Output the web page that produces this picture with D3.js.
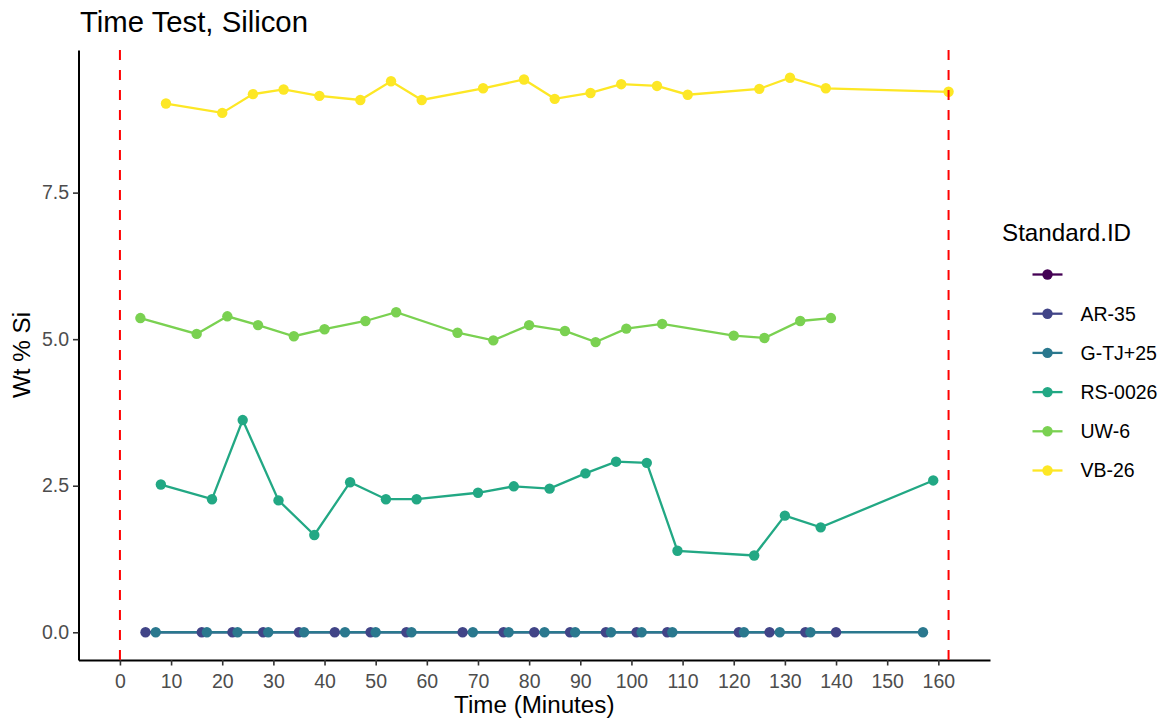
<!DOCTYPE html>
<html>
<head>
<meta charset="utf-8">
<script src="https://cdn.jsdelivr.net/npm/d3@7"></script>
<style>
  html, body { margin: 0; padding: 0; background: #ffffff; }
  svg { display: block; font-family: "Liberation Sans", Arial, sans-serif; }
</style>
</head>
<body>
<svg id="chart" width="1169" height="721"></svg>
<script>
// Standards, in legend order (first level has no label)
const standards = ["", "AR-35", "G-TJ+25", "RS-0026", "UW-6", "VB-26"];
const standardColors = ["#440154", "#414487", "#2A788E", "#22A884", "#7AD151", "#FDE725"];

// Time (minutes) and Wt % Si for each standard
const blankTime = [];
const blankSi = [];

const ar35Time = [5, 16, 22, 28, 35, 42, 49, 56, 67, 75, 81, 88, 95, 101, 107, 121, 127, 134, 140];
const ar35Si   = [0, 0, 0, 0, 0, 0, 0, 0, 0, 0, 0, 0, 0, 0, 0, 0, 0, 0, 0];

const gtjTime = [7, 17, 23, 29, 36, 44, 50, 57, 69, 76, 83, 89, 96, 102, 108, 122, 129, 135, 157];
const gtjSi   = [0, 0, 0, 0, 0, 0, 0, 0, 0, 0, 0, 0, 0, 0, 0, 0, 0, 0, 0];

const rsTime = [8, 18, 24, 31, 38, 45, 52, 58, 70, 77, 84, 91, 97, 103, 109, 124, 130, 137, 159];
const rsSi   = [2.52, 2.27, 3.62, 2.25, 1.66, 2.56, 2.27, 2.27, 2.38, 2.49, 2.45, 2.71, 2.91, 2.89, 1.39, 1.31, 1.99, 1.79, 2.59];

const uwTime = [4, 15, 21, 27, 34, 40, 48, 54, 66, 73, 80, 87, 93, 99, 106, 120, 126, 133, 139];
const uwSi   = [5.36, 5.09, 5.39, 5.24, 5.05, 5.17, 5.31, 5.46, 5.11, 4.98, 5.24, 5.14, 4.95, 5.18, 5.26, 5.06, 5.02, 5.31, 5.36];

const vbTime = [9, 20, 26, 32, 39, 47, 53, 59, 71, 79, 85, 92, 98, 105, 111, 125, 131, 138, 162];
const vbSi   = [9.02, 8.86, 9.18, 9.26, 9.15, 9.08, 9.40, 9.08, 9.28, 9.43, 9.10, 9.20, 9.35, 9.32, 9.17, 9.27, 9.46, 9.28, 9.22];

// Start and end of the test window
const windowMarks = [0, 162];

const xTicks = d3.range(0, 161, 10);
const yTicks = [0, 2.5, 5, 7.5];
const yTickLabels = ["0.0", "2.5", "5.0", "7.5"];

const titleText = "Time Test, Silicon";
const xTitle = "Time (Minutes)";
const yTitle = "Wt % Si";
const legendTitle = "Standard.ID";

// Assemble series
const seriesTimes = [blankTime, ar35Time, gtjTime, rsTime, uwTime, vbTime];
const seriesSi = [blankSi, ar35Si, gtjSi, rsSi, uwSi, vbSi];
const series = standards.map((name, i) => ({
  name,
  color: standardColors[i],
  points: seriesTimes[i].map((t, j) => ({ t, v: seriesSi[i][j] }))
}));

const svg = d3.select("#chart");
const panel = { left: 78.5, right: 990, top: 50, bottom: 660 };

// Scale limits with a 5% pad on each side
const allT = seriesTimes.flat().concat(windowMarks);
const allV = seriesSi.flat();
const [tMin, tMax] = d3.extent(allT);
const [vMin, vMax] = d3.extent(allV);
const tPad = (tMax - tMin) * 0.05, vPad = (vMax - vMin) * 0.05;

const x = d3.scaleLinear().domain([tMin - tPad, tMax + tPad]).range([panel.left, panel.right]);
const y = d3.scaleLinear().domain([vMin - vPad, vMax + vPad]).range([panel.bottom, panel.top]);

// Axes
const xAxis = svg.append("g")
  .attr("transform", `translate(0,${panel.bottom})`)
  .call(d3.axisBottom(x).tickValues(xTicks).tickSizeInner(5.5).tickSizeOuter(0).tickPadding(4).tickFormat(d3.format("d")));
const yAxis = svg.append("g")
  .attr("transform", `translate(${panel.left},0)`)
  .call(d3.axisLeft(y).tickValues(yTicks).tickSizeInner(5.5).tickSizeOuter(0).tickPadding(4).tickFormat((d, i) => yTickLabels[i]));

[xAxis, yAxis].forEach(ax => {
  ax.select(".domain").attr("stroke", "#000").attr("stroke-width", 2);
  ax.selectAll(".tick line").attr("stroke", "#333333").attr("stroke-width", 1.6);
  ax.selectAll(".tick text").attr("fill", "#4D4D4D").style("font-size", "19.5px");
});
xAxis.selectAll(".tick text").attr("dy", "0.95em");

// Lines then points, per standard
const line = d3.line().x(d => x(d.t)).y(d => y(d.v));
const marks = svg.append("g");
series.forEach(s => {
  if (s.points.length > 1) {
    marks.append("path")
      .datum(s.points)
      .attr("d", line)
      .attr("fill", "none")
      .attr("stroke", s.color)
      .attr("stroke-width", 2.3);
  }
});
series.forEach(s => {
  marks.append("g").selectAll("circle")
    .data(s.points)
    .join("circle")
    .attr("cx", d => x(d.t))
    .attr("cy", d => y(d.v))
    .attr("r", 5.2)
    .attr("fill", s.color);
});

// Dashed window boundaries
svg.append("g").selectAll("line")
  .data(windowMarks)
  .join("line")
  .attr("x1", d => x(d)).attr("x2", d => x(d))
  .attr("y1", panel.top).attr("y2", panel.bottom)
  .attr("stroke", "#FF0000")
  .attr("stroke-width", 2)
  .attr("stroke-dasharray", "10,10");

// Titles
svg.append("text")
  .attr("x", 80).attr("y", 32)
  .style("font-size", "29.3px")
  .attr("fill", "#000")
  .text(titleText);

svg.append("text")
  .attr("x", (panel.left + panel.right) / 2).attr("y", 713)
  .attr("text-anchor", "middle")
  .style("font-size", "24.2px")
  .attr("fill", "#000")
  .text(xTitle);

svg.append("text")
  .attr("transform", `translate(30,${(panel.top + panel.bottom) / 2}) rotate(-90)`)
  .attr("text-anchor", "middle")
  .style("font-size", "24.2px")
  .attr("fill", "#000")
  .text(yTitle);

// Legend
const legend = svg.append("g").attr("transform", "translate(1002,0)");
legend.append("text")
  .attr("x", 0).attr("y", 241)
  .style("font-size", "24.2px")
  .attr("fill", "#000")
  .text(legendTitle);

const rowY = i => 274.5 + i * 39.2;
const rows = legend.selectAll("g.row")
  .data(series)
  .join("g")
  .attr("class", "row")
  .attr("transform", (d, i) => `translate(0,${rowY(i)})`);
rows.append("line")
  .attr("x1", 30.5).attr("x2", 60.5)
  .attr("stroke", d => d.color)
  .attr("stroke-width", 2.3);
rows.append("circle")
  .attr("cx", 45.5).attr("r", 5.2)
  .attr("fill", d => d.color);
rows.append("text")
  .attr("x", 78.5).attr("dy", "0.35em")
  .style("font-size", "19.5px")
  .attr("fill", "#000")
  .text(d => d.name);
</script>
</body>
</html>
